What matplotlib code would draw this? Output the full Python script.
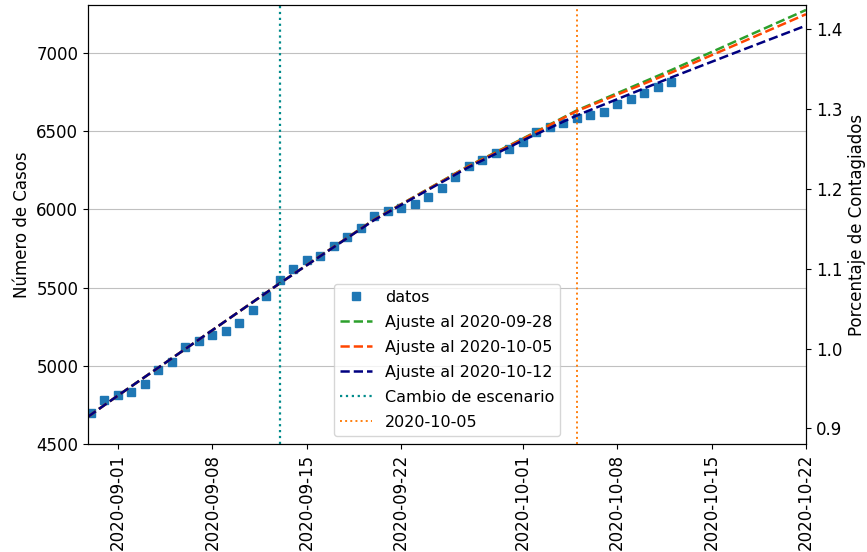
import numpy as np
import pandas as pd
import matplotlib
matplotlib.use("Agg")
import matplotlib.pyplot as plt
import matplotlib.dates as mdates

plt.rcParams['font.size'] = 12

# datos diarios
fechas = pd.date_range('2020-08-30', '2020-10-12', freq='D')
casos = [4696, 4781, 4813, 4834, 4884, 4973, 5026, 5118, 5159, 5197,
         5224, 5272, 5357, 5446, 5549, 5617, 5676, 5702, 5766, 5826,
         5879, 5960, 5990, 6011, 6033, 6077, 6139, 6209, 6277, 6316,
         6359, 6384, 6433, 6493, 6525, 6550, 6582, 6604, 6621, 6674,
         6706, 6742, 6785, 6817]

# curvas de ajuste
fechas_ajuste = pd.to_datetime(['2020-08-29', '2020-09-01', '2020-09-06', '2020-09-13',
                                '2020-09-20', '2020-09-27', '2020-10-01', '2020-10-05',
                                '2020-10-12', '2020-10-17', '2020-10-22'])
ajuste_0928 = [4626, 4809, 5107, 5527, 5935, 6278, 6452, 6632, 6890, 7083, 7275]
ajuste_1005 = [4626, 4809, 5107, 5527, 5934, 6276, 6449, 6628, 6874, 7060, 7248]
ajuste_1012 = [4626, 4809, 5107, 5527, 5932, 6270, 6440, 6600, 6843, 7010, 7175]

cambio_escenario = pd.Timestamp('2020-09-13')
fecha_corte = pd.Timestamp('2020-10-05')
poblacion = 511000

fig = plt.figure(figsize=(8.67, 5.52), dpi=100)
ax = fig.add_axes([0.1015, 0.1957, 0.8281, 0.7953])

ax.plot(fechas, casos, 's', color='tab:blue', ms=5.5, label='datos')
ax.plot(fechas_ajuste, ajuste_0928, '--', color='tab:green', lw=1.8, label='Ajuste al 2020-09-28')
ax.plot(fechas_ajuste, ajuste_1005, '--', color='orangered', lw=1.8, label='Ajuste al 2020-10-05')
ax.plot(fechas_ajuste, ajuste_1012, '--', color='navy', lw=1.8, label='Ajuste al 2020-10-12')
ax.axvline(cambio_escenario, linestyle=':', color='darkcyan', lw=1.6, label='Cambio de escenario')
ax.axvline(fecha_corte, linestyle=':', color='tab:orange', lw=1.4, label='2020-10-05')

ax.set_xlim(pd.Timestamp('2020-08-29 19:00'), pd.Timestamp('2020-10-22'))
ax.set_ylim(4500, 7307)
ax.set_yticks(np.arange(4500, 7001, 500))
ax.grid(axis='y', color='#c0c0c0')
ax.set_ylabel('Número de Casos')
ax.xaxis.set_major_locator(mdates.DayLocator(bymonthday=[1, 8, 15, 22]))
ax.xaxis.set_major_formatter(mdates.DateFormatter('%Y-%m-%d'))
plt.setp(ax.get_xticklabels(), rotation=90)
ax.legend(loc='lower center', fontsize=11.5, labelspacing=0.62)

ax2 = ax.twinx()
y0, y1 = ax.get_ylim()
ax2.set_ylim(y0 / poblacion * 100, y1 / poblacion * 100)
ax2.set_ylabel('Porcentaje de Contagiados')

fig.savefig('out.png', dpi=100)
